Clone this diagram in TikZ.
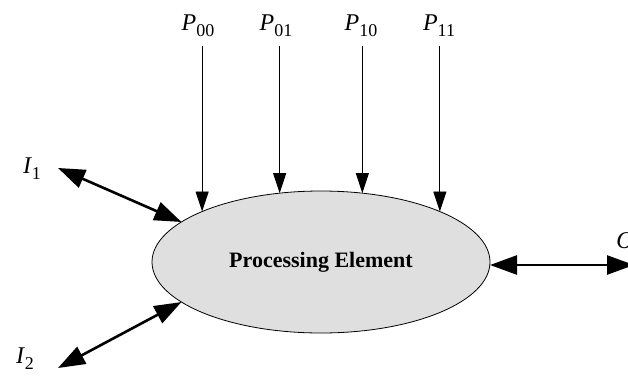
\documentclass[tikz,border=0pt]{standalone}
\usepackage{fontspec}
\setmainfont{Liberation Serif}
\usetikzlibrary{arrows.meta,shapes.geometric,positioning}

\newcommand{\idxlab}[2]{\textit{#1}\raisebox{-6pt}{\fontsize{18}{18}\selectfont #2}}

\begin{document}
\begin{tikzpicture}[
  x=1pt, y=1pt,
  pe/.style={ellipse, draw, line width=0.8pt, fill=gray!25, minimum width=338pt, minimum height=142pt, inner sep=0pt, outer sep=0pt, font=\fontsize{22}{26}\selectfont\bfseries},
  plab/.style={anchor=base, inner sep=2pt, font=\fontsize{24}{28}\selectfont},
  thinarr/.style={-{Triangle[length=20pt, width=13pt]}, line width=0.9pt, shorten <=8pt},
  bigarr/.style={{Triangle[length=27pt, width=19pt]}-{Triangle[length=27pt, width=19pt]}, line width=2.6pt}
]
  \useasboundingbox (0,0) rectangle (628,376);

  % Processing element
  \node[pe] (pe) at (321,114) {Processing Element};

  % Parameter inputs
  \node[plab] (p00) at (198,346) {\idxlab{P}{00}};
  \node[plab] (p01) at (276,346) {\idxlab{P}{01}};
  \node[plab] (p10) at (361,346) {\idxlab{P}{10}};
  \node[plab] (p11) at (439,346) {\idxlab{P}{11}};
  \draw[thinarr] (p00.south -| pe.157) -- (pe.157);
  \draw[thinarr] (p01.south -| pe.121) -- (pe.121);
  \draw[thinarr] (p10.south -| pe.59) -- (pe.59);
  \draw[thinarr] (p11.south -| pe.23) -- (pe.23);

  % Ports
  \node[plab] (i1) at (32,203) {\idxlab{I}{1}};
  \node[plab] (i2) at (25,13) {\idxlab{I}{2}};
  \node[plab] (o) at (625,128) {\textit{O}};
  \coordinate (i1tip) at (58,208);
  \coordinate (i2tip) at (58,8);
  \coordinate (otip) at (634,111);
  \draw[bigarr] (i1tip) -- (pe.164);
  \draw[bigarr] (i2tip) -- (pe.196);
  \draw[bigarr] (otip -| pe.east) -- (otip);
\end{tikzpicture}
\end{document}
